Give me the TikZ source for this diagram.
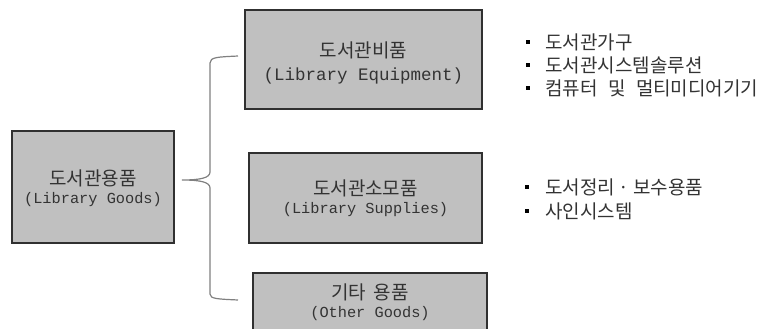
\documentclass[tikz,border=0pt]{standalone}
\usepackage{fontspec}
\newfontfamily\kr{Noto Sans CJK KR}
\newfontfamily\mono{Liberation Mono}
\definecolor{boxfill}{HTML}{C0C0C0}
\definecolor{boxline}{HTML}{303030}
\definecolor{brk}{HTML}{808080}
\definecolor{txt}{HTML}{333333}
\begin{document}
\begin{tikzpicture}[x=1bp,y=-1bp,
  catbox/.style={draw=boxline,fill=boxfill,line width=1.1bp},
  krt/.style={text=txt,font=\kr\fontsize{19bp}{20bp}\selectfont,inner sep=0pt,anchor=center},
  lat/.style={text=txt,font=\mono\fontsize{15.3bp}{18bp}\selectfont,inner sep=0pt,anchor=center},
  latbig/.style={text=txt,font=\mono\fontsize{17.5bp}{18bp}\selectfont,inner sep=0pt,anchor=center},
  item/.style={text=txt,font=\kr\fontsize{19bp}{20bp}\selectfont,inner sep=0pt,anchor=west},
  bul/.style={fill=black,inner sep=0pt,minimum size=4.5bp,draw=none},
  bracket/.style={draw=brk,line width=1.2bp}]
\useasboundingbox (0,0) rectangle (767,328);
% boxes
\draw[catbox] (12,131) rectangle (174,243);
\node[krt] (g1) at (93,178) {도서관용품};
\node[lat] (g2) at (93,200) {(Library Goods)};
\draw[catbox] (245,10) rectangle (482,109);
\node[krt] (e1) at (363.5,50) {도서관비품};
\node[latbig] (e2) at (363.5,75.5) {(Library Equipment)};
\draw[catbox] (249,153) rectangle (482,243);
\node[krt] (s1) at (365.5,188) {도서관소모품};
\node[lat] (s2) at (365.5,210) {(Library Supplies)};
\draw[catbox] (253,273) rectangle (487,340);
\node[krt] (o1) at (370,292) {기타\hspace{0.4em}용품};
\node[lat] (o2) at (370,314) {(Other Goods)};
% bracket
\coordinate (tip) at (182,180);
\coordinate (top) at (238,56);
\coordinate (bot) at (238,300);
\draw[bracket] (top) .. controls (218,57) and (210,57) .. (210,63)
  -- (210,172) .. controls (210,178) and (200,180) .. (tip)
  .. controls (200,180) and (210,182) .. (210,188)
  -- (210,294) .. controls (210,299) and (218,299) .. (bot);
% bullet list 1
\node[bul] (b1) at (528,42) {};
\node[item] (t1) at (545,42) {도서관가구};
\node[bul] (b2) at (528,65) {};
\node[item] (t2) at (545,65) {도서관시스템솔루션};
\node[bul] (b3) at (528,88) {};
\node[item] (t3) at (545,88) {컴퓨터\hspace{0.55em}및\hspace{0.55em}멀티미디어기기};
% bullet list 2
\node[bul] (b4) at (527,187) {};
\node[item] (t4) at (545,187) {도서정리\hspace{0.2em}·\hspace{0.2em}보수용품};
\node[bul] (b5) at (527,211) {};
\node[item] (t5) at (545,211) {사인시스템};
\end{tikzpicture}
\end{document}
